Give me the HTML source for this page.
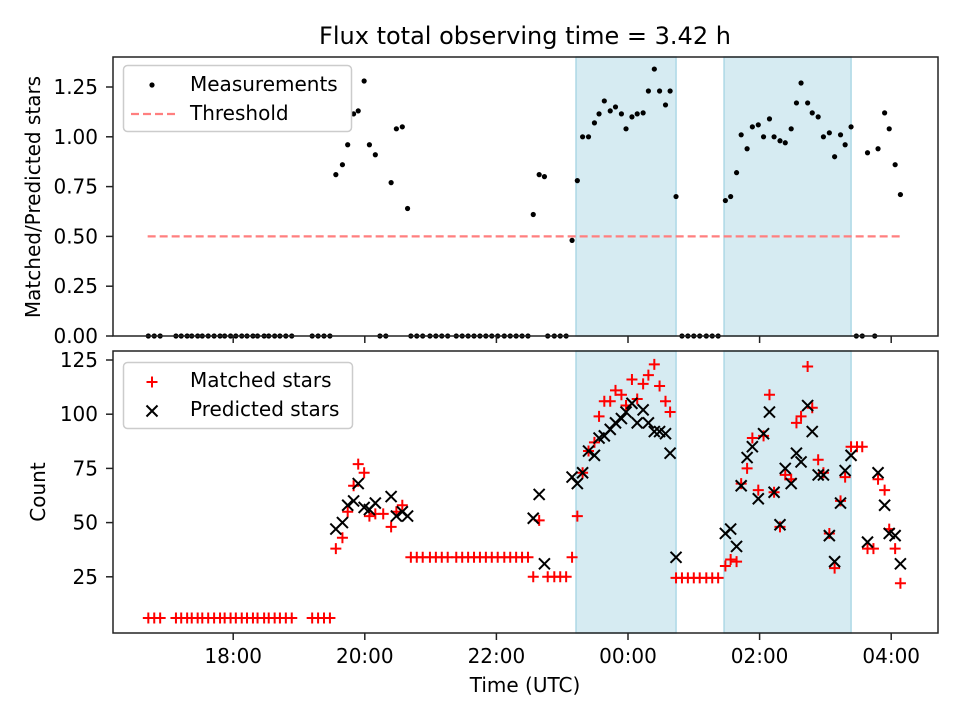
<!DOCTYPE html>
<html><head><meta charset="utf-8"><style>
body{margin:0;background:#fff}
svg text{font-family:"DejaVu Sans","Liberation Sans",sans-serif;fill:#000}
</style></head><body>
<svg id="chart" width="960" height="720" xmlns="http://www.w3.org/2000/svg"></svg>
<script>
const xTicks=[18,20,22,24,26,28];
const xTickLabels=["18:00","20:00","22:00","00:00","02:00","04:00"];
const ratioTicks=[0,0.25,0.5,0.75,1.0,1.25];
const ratioTickLabels=["0.00","0.25","0.50","0.75","1.00","1.25"];
const countTicks=[25,50,75,100,125];
const spans=[[23.21,24.73],[25.46,27.39]];
const threshold=0.5;
const thresholdRange=[16.7,28.14];
const measTimes=[19.56,19.66,19.74,19.83,19.90,19.99,20.07,20.16,20.40,20.48,20.57,20.65,22.56,22.65,22.73,23.15,23.23,23.31,23.40,23.49,23.56,23.64,23.73,23.81,23.90,23.97,24.06,24.14,24.23,24.31,24.40,24.48,24.57,24.64,24.73,25.48,25.56,25.65,25.72,25.81,25.89,25.98,26.06,26.15,26.22,26.31,26.39,26.48,26.56,26.63,26.73,26.80,26.89,26.97,27.06,27.14,27.23,27.30,27.39,27.64,27.80,27.90,27.97,28.06,28.14];
const measValues=[0.81,0.86,0.96,1.115,1.13,1.28,0.96,0.91,0.77,1.04,1.05,0.64,0.61,0.81,0.80,0.48,0.78,1.0,1.0,1.07,1.115,1.18,1.13,1.15,1.115,1.04,1.10,1.115,1.12,1.23,1.34,1.23,1.16,1.23,0.70,0.68,0.70,0.82,1.01,0.94,1.05,1.06,1.0,1.09,1.0,0.98,0.97,1.04,1.17,1.27,1.17,1.12,1.10,1.0,1.02,0.90,1.01,0.96,1.05,0.92,0.94,1.12,1.04,0.86,0.71];
const zeroTimes=[16.71,16.80,16.89,17.13,17.21,17.30,17.37,17.46,17.53,17.62,17.71,17.80,17.87,17.96,18.04,18.13,18.21,18.30,18.37,18.47,18.54,18.63,18.71,18.80,18.89,19.20,19.29,19.38,19.47,20.23,20.32,20.70,20.79,20.88,20.99,21.08,21.17,21.26,21.39,21.48,21.57,21.66,21.75,21.84,21.93,22.02,22.12,22.21,22.30,22.39,22.48,22.78,22.88,22.97,23.06,24.82,24.91,25.00,25.09,25.19,25.28,25.37,27.47,27.56,27.75];
const lowMatchTimes=[16.71,16.80,16.89,17.13,17.21,17.30,17.37,17.46,17.53,17.62,17.71,17.80,17.87,17.96,18.04,18.13,18.21,18.30,18.37,18.47,18.54,18.63,18.71,18.80,18.89,19.20,19.29,19.38,19.47,20.70,20.79,20.88,20.99,21.08,21.17,21.26,21.39,21.48,21.57,21.66,21.75,21.84,21.93,22.02,22.12,22.21,22.30,22.39,22.48,22.78,22.88,22.97,23.06,24.73,24.82,24.91,25.00,25.09,25.19,25.28,25.37];
const lowMatchValues=[6,6,6,6,6,6,6,6,6,6,6,6,6,6,6,6,6,6,6,6,6,6,6,6,6,6,6,6,6,34,34,34,34,34,34,34,34,34,34,34,34,34,34,34,34,34,34,34,34,25,25,25,25,24.5,24.5,24.5,24.5,24.5,24.5,24.5,24.5];
const matchTimes=[19.56,19.66,19.74,19.83,19.90,19.99,20.07,20.16,20.28,20.40,20.48,20.57,22.56,22.65,23.15,23.23,23.31,23.40,23.49,23.56,23.64,23.73,23.81,23.90,23.97,24.06,24.14,24.23,24.31,24.40,24.48,24.57,24.64,25.48,25.56,25.65,25.72,25.81,25.89,25.98,26.06,26.15,26.22,26.31,26.39,26.48,26.56,26.63,26.73,26.80,26.89,26.97,27.06,27.14,27.23,27.30,27.39,27.48,27.56,27.64,27.73,27.80,27.90,27.97,28.06,28.14];
const matchValues=[38,43,55,67,77,73,53,54,54,48,55,58,25,51,34,53,73,83,87,99,106,106,111,109,104,116,107,114,118,123,113,106,101,30,33,32,68,75,89,65,90,109,64,48,72,70,96,99,122,103,79,73,45,29,60,71,85,85,85,38,38,70,65,47,38,22];
const predTimes=[19.56,19.66,19.74,19.83,19.90,19.99,20.07,20.16,20.40,20.48,20.57,20.65,22.56,22.65,22.73,23.15,23.23,23.31,23.40,23.49,23.56,23.64,23.73,23.81,23.90,23.97,24.06,24.14,24.23,24.31,24.40,24.48,24.57,24.64,24.73,25.48,25.56,25.65,25.72,25.81,25.89,25.98,26.06,26.15,26.22,26.31,26.39,26.48,26.56,26.63,26.73,26.80,26.89,26.97,27.06,27.14,27.23,27.30,27.39,27.64,27.80,27.90,27.97,28.06,28.14];
const predValues=[47,50,58,60,68,57,56,59,62,53,55,53,52,63,31,71,68,73,83,81,89,90,93,96,98,101,105,96,102,96,92,92,91,82,34,45,47,39,67,80,85,61,91,101,64,49,75,68,82,78,104,92,72,72,44,32,59,74,81,41,73,58,45,44,31];

const NS="http://www.w3.org/2000/svg";
const svg=document.getElementById('chart');
const L=113,R=938,T1=57,B1=336,T2=351,B2=633;
const xS=h=>628+(h-24)*65.8;
const yR=r=>336-r*199.2;
const yC=c=>360+(125-c)*2.168;
function mk(tag,at,parent){const e=document.createElementNS(NS,tag);for(const k in at)e.setAttribute(k,at[k]);(parent||svg).appendChild(e);return e;}
function txt(s,at,parent){const e=mk('text',at,parent);e.textContent=s;return e;}

let t=txt('Flux total observing time = 3.42 h',{x:525,y:44,'text-anchor':'middle','font-size':24});



function panel(top,bot,name){
  const g=mk('g',{});
  
  
  spans.forEach(s=>{
    const r=mk('rect',{x:xS(s[0]),y:top,width:xS(s[1])-xS(s[0]),height:bot-top,fill:'#add8e6','fill-opacity':0.5,stroke:'#add8e6','stroke-width':1.5},g);
    
    
  });
  return g;
}
function frame(top,bot,g,labels){
  mk('rect',{x:L,y:top,width:R-L,height:bot-top,fill:'none',stroke:'#222','stroke-width':1.5},g);
  xTicks.forEach((v,i)=>{
    const x=xS(v);
    mk('line',{x1:x,x2:x,y1:bot,y2:bot+7,stroke:'#222','stroke-width':1.5},g);
    if(labels){const tl=txt(xTickLabels[i],{x:x,y:bot+30,'text-anchor':'middle','font-size':20},g);
      
      }
  });
}
// top panel
const g1=panel(T1,B1,'ratio-panel');
const th=mk('line',{x1:xS(thresholdRange[0]),x2:xS(thresholdRange[1]),y1:yR(threshold),y2:yR(threshold),stroke:'#ff7f7f','stroke-width':2.2,'stroke-dasharray':'8,4'},g1);


zeroTimes.forEach(h=>{const c=mk('circle',{cx:xS(h),cy:yR(0),r:2.6,fill:'#000'},g1);
  
  });
measTimes.forEach((h,i)=>{const c=mk('circle',{cx:xS(h),cy:yR(measValues[i]),r:2.6,fill:'#000'},g1);
  
  });
frame(T1,B1,g1,false);
ratioTicks.forEach((v,i)=>{const y=yR(v);
  mk('line',{x1:L-7,x2:L,y1:y,y2:y,stroke:'#222','stroke-width':1.5},g1);
  const tl=txt(ratioTickLabels[i],{x:L-15,y:y+7,'text-anchor':'end','font-size':20},g1);
  
  });
let yl=txt('Matched/Predicted stars',{x:0,y:0,'text-anchor':'middle','font-size':20,transform:'translate(40,197) rotate(-90)'});



// bottom panel
const g2=panel(T2,B2,'count-panel');
function plus(x,y,p){const s=5.5;mk('path',{d:`M${x-s},${y}H${x+s}M${x},${y-s}V${y+s}`,stroke:'#f00','stroke-width':2},p);}
function cross(x,y,p){const s=5.5;mk('path',{d:`M${x-s},${y-s}L${x+s},${y+s}M${x-s},${y+s}L${x+s},${y-s}`,stroke:'#000','stroke-width':2},p);}
lowMatchTimes.forEach((h,i)=>{const g=mk('g',{},g2);
  
  
  plus(xS(h),yC(lowMatchValues[i]),g);});
matchTimes.forEach((h,i)=>{const g=mk('g',{},g2);
  
  
  plus(xS(h),yC(matchValues[i]),g);});
predTimes.forEach((h,i)=>{const g=mk('g',{},g2);
  
  
  cross(xS(h),yC(predValues[i]),g);});
frame(T2,B2,g2,true);
countTicks.forEach(v=>{const y=yC(v);
  mk('line',{x1:L-7,x2:L,y1:y,y2:y,stroke:'#222','stroke-width':1.5},g2);
  const tl=txt(String(v),{x:L-15,y:y+7,'text-anchor':'end','font-size':20},g2);
  
  });
let yl2=txt('Count',{x:0,y:0,'text-anchor':'middle','font-size':20,transform:'translate(45,492) rotate(-90)'});


let xl=txt('Time (UTC)',{x:525,y:692,'text-anchor':'middle','font-size':20});



// legends
const lg1=mk('g',{});


mk('rect',{x:123.5,y:65.5,width:228,height:66,rx:4,fill:'#fff','fill-opacity':0.8,stroke:'#ccc','stroke-width':1.5},lg1);
mk('circle',{cx:152,cy:85,r:2.6,fill:'#000'},lg1);
txt('Measurements',{x:190,y:91,'font-size':20},lg1);
mk('line',{x1:131,x2:175,y1:114,y2:114,stroke:'#ff7f7f','stroke-width':2.2,'stroke-dasharray':'8,4'},lg1);
txt('Threshold',{x:190,y:120,'font-size':20},lg1);
const lg2=mk('g',{});


mk('rect',{x:123.5,y:362.5,width:229,height:66,rx:4,fill:'#fff','fill-opacity':0.8,stroke:'#ccc','stroke-width':1.5},lg2);
plus(152,382,lg2);
txt('Matched stars',{x:190,y:387,'font-size':20},lg2);
cross(152,411,lg2);
txt('Predicted stars',{x:190,y:416,'font-size':20},lg2);
</script>
</body></html>
